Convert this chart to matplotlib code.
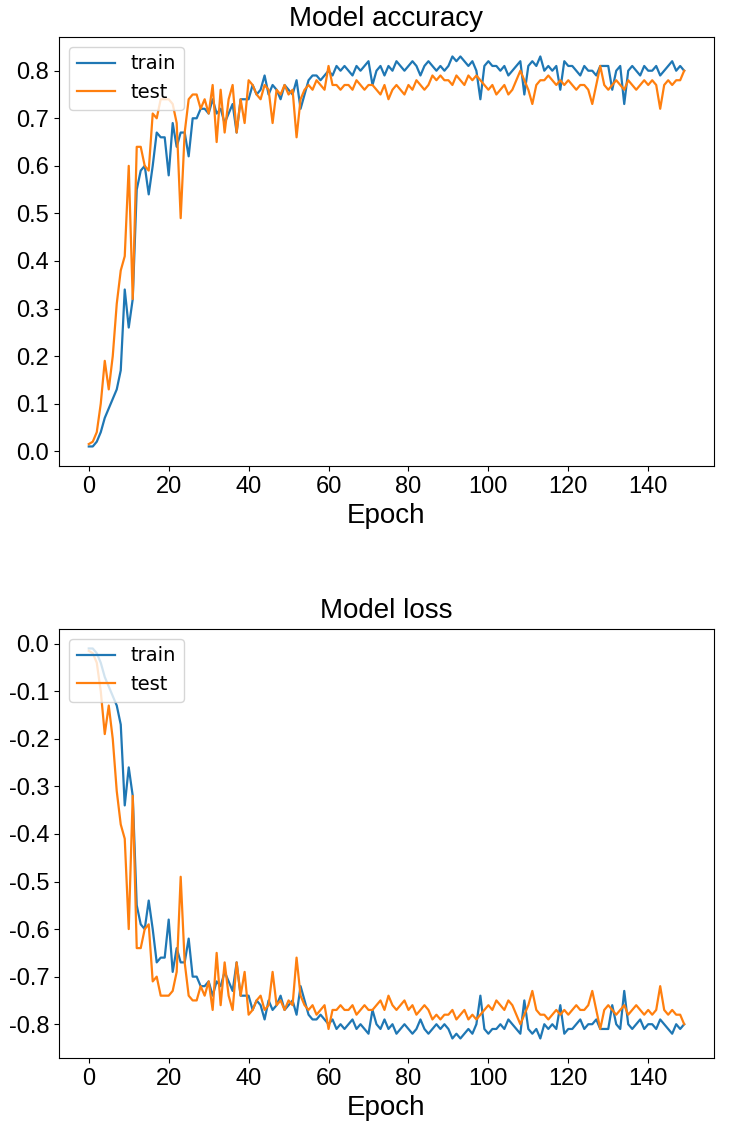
import numpy as np
import matplotlib
matplotlib.use('Agg')
import matplotlib.pyplot as plt

plt.rcParams['font.family'] = ['Liberation Sans', 'DejaVu Sans']
plt.rcParams['axes.unicode_minus'] = False

# accuracy per epoch
acc_train = [0.01, 0.01, 0.02, 0.04, 0.07, 0.09, 0.11, 0.13, 0.17, 0.34,
             0.26, 0.32, 0.55, 0.59, 0.60, 0.54, 0.60, 0.67, 0.66, 0.66,
             0.58, 0.69, 0.64, 0.67, 0.67, 0.62, 0.70, 0.70, 0.72, 0.72,
             0.71, 0.74, 0.71, 0.72, 0.69, 0.71, 0.73, 0.67, 0.74, 0.74,
             0.74, 0.77, 0.75, 0.76, 0.79, 0.75, 0.77, 0.76, 0.74, 0.77,
             0.76, 0.75, 0.78, 0.72, 0.75, 0.78, 0.79, 0.79, 0.78, 0.79,
             0.80, 0.79, 0.81, 0.80, 0.81, 0.80, 0.79, 0.81, 0.80, 0.81,
             0.82, 0.77, 0.80, 0.81, 0.79, 0.81, 0.80, 0.82, 0.81, 0.80,
             0.81, 0.82, 0.81, 0.79, 0.81, 0.82, 0.81, 0.80, 0.81, 0.80,
             0.81, 0.83, 0.82, 0.83, 0.82, 0.81, 0.82, 0.80, 0.74, 0.81,
             0.82, 0.81, 0.81, 0.80, 0.81, 0.79, 0.80, 0.81, 0.82, 0.75,
             0.81, 0.82, 0.81, 0.83, 0.80, 0.81, 0.80, 0.81, 0.76, 0.82,
             0.81, 0.81, 0.80, 0.79, 0.81, 0.80, 0.80, 0.79, 0.81, 0.81,
             0.81, 0.76, 0.80, 0.81, 0.73, 0.80, 0.81, 0.80, 0.79, 0.81,
             0.80, 0.80, 0.81, 0.79, 0.80, 0.81, 0.82, 0.80, 0.81, 0.80]
acc_test = [0.015, 0.02, 0.04, 0.10, 0.19, 0.13, 0.20, 0.31, 0.38, 0.41,
            0.60, 0.32, 0.64, 0.64, 0.60, 0.59, 0.71, 0.70, 0.74, 0.74,
            0.74, 0.73, 0.69, 0.49, 0.67, 0.74, 0.75, 0.75, 0.72, 0.74,
            0.71, 0.77, 0.65, 0.76, 0.67, 0.74, 0.77, 0.67, 0.74, 0.69,
            0.78, 0.77, 0.75, 0.74, 0.77, 0.76, 0.69, 0.76, 0.75, 0.77,
            0.75, 0.76, 0.66, 0.74, 0.76, 0.77, 0.76, 0.78, 0.77, 0.76,
            0.81, 0.77, 0.77, 0.76, 0.77, 0.77, 0.76, 0.78, 0.77, 0.76,
            0.77, 0.77, 0.76, 0.75, 0.77, 0.74, 0.76, 0.77, 0.76, 0.75,
            0.77, 0.76, 0.78, 0.77, 0.76, 0.77, 0.79, 0.78, 0.79, 0.78,
            0.78, 0.77, 0.79, 0.78, 0.77, 0.79, 0.78, 0.79, 0.78, 0.77,
            0.76, 0.77, 0.75, 0.76, 0.77, 0.75, 0.76, 0.78, 0.80, 0.78,
            0.76, 0.73, 0.77, 0.78, 0.78, 0.79, 0.78, 0.77, 0.78, 0.77,
            0.78, 0.77, 0.76, 0.77, 0.77, 0.76, 0.73, 0.77, 0.81, 0.77,
            0.76, 0.77, 0.78, 0.77, 0.76, 0.78, 0.77, 0.76, 0.77, 0.78,
            0.77, 0.78, 0.77, 0.72, 0.77, 0.78, 0.77, 0.78, 0.78, 0.80]

# loss per epoch (the lower panel)
loss_train = [-0.01, -0.01, -0.02, -0.04, -0.07, -0.09, -0.11, -0.13, -0.17, -0.34,
              -0.26, -0.32, -0.55, -0.59, -0.60, -0.54, -0.60, -0.67, -0.66, -0.66,
              -0.58, -0.69, -0.64, -0.67, -0.67, -0.62, -0.70, -0.70, -0.72, -0.72,
              -0.71, -0.74, -0.71, -0.72, -0.69, -0.71, -0.73, -0.67, -0.74, -0.74,
              -0.74, -0.77, -0.75, -0.76, -0.79, -0.75, -0.77, -0.76, -0.74, -0.77,
              -0.76, -0.75, -0.78, -0.72, -0.75, -0.78, -0.79, -0.79, -0.78, -0.79,
              -0.80, -0.79, -0.81, -0.80, -0.81, -0.80, -0.79, -0.81, -0.80, -0.81,
              -0.82, -0.77, -0.80, -0.81, -0.79, -0.81, -0.80, -0.82, -0.81, -0.80,
              -0.81, -0.82, -0.81, -0.79, -0.81, -0.82, -0.81, -0.80, -0.81, -0.80,
              -0.81, -0.83, -0.82, -0.83, -0.82, -0.81, -0.82, -0.80, -0.74, -0.81,
              -0.82, -0.81, -0.81, -0.80, -0.81, -0.79, -0.80, -0.81, -0.82, -0.75,
              -0.81, -0.82, -0.81, -0.83, -0.80, -0.81, -0.80, -0.81, -0.76, -0.82,
              -0.81, -0.81, -0.80, -0.79, -0.81, -0.80, -0.80, -0.79, -0.81, -0.81,
              -0.81, -0.76, -0.80, -0.81, -0.73, -0.80, -0.81, -0.80, -0.79, -0.81,
              -0.80, -0.80, -0.81, -0.79, -0.80, -0.81, -0.82, -0.80, -0.81, -0.80]
loss_test = [-0.015, -0.02, -0.04, -0.10, -0.19, -0.13, -0.20, -0.31, -0.38, -0.41,
             -0.60, -0.32, -0.64, -0.64, -0.60, -0.59, -0.71, -0.70, -0.74, -0.74,
             -0.74, -0.73, -0.69, -0.49, -0.67, -0.74, -0.75, -0.75, -0.72, -0.74,
             -0.71, -0.77, -0.65, -0.76, -0.67, -0.74, -0.77, -0.67, -0.74, -0.69,
             -0.78, -0.77, -0.75, -0.74, -0.77, -0.76, -0.69, -0.76, -0.75, -0.77,
             -0.75, -0.76, -0.66, -0.74, -0.76, -0.77, -0.76, -0.78, -0.77, -0.76,
             -0.81, -0.77, -0.77, -0.76, -0.77, -0.77, -0.76, -0.78, -0.77, -0.76,
             -0.77, -0.77, -0.76, -0.75, -0.77, -0.74, -0.76, -0.77, -0.76, -0.75,
             -0.77, -0.76, -0.78, -0.77, -0.76, -0.77, -0.79, -0.78, -0.79, -0.78,
             -0.78, -0.77, -0.79, -0.78, -0.77, -0.79, -0.78, -0.79, -0.78, -0.77,
             -0.76, -0.77, -0.75, -0.76, -0.77, -0.75, -0.76, -0.78, -0.80, -0.78,
             -0.76, -0.73, -0.77, -0.78, -0.78, -0.79, -0.78, -0.77, -0.78, -0.77,
             -0.78, -0.77, -0.76, -0.77, -0.77, -0.76, -0.73, -0.77, -0.81, -0.77,
             -0.76, -0.77, -0.78, -0.77, -0.76, -0.78, -0.77, -0.76, -0.77, -0.78,
             -0.77, -0.78, -0.77, -0.72, -0.77, -0.78, -0.77, -0.78, -0.78, -0.80]

epochs = np.arange(len(acc_train))

fig, (ax1, ax2) = plt.subplots(2, 1, figsize=(7.33, 11.37), dpi=100)
fig.subplots_adjust(left=0.0805, right=0.974, top=0.9675, bottom=0.0695, hspace=0.38)

for ax, tr, te, title in [(ax1, acc_train, acc_test, 'Model accuracy'),
                          (ax2, loss_train, loss_test, 'Model loss')]:
    ax.plot(epochs, tr, color='tab:blue', lw=1.6, label='train')
    ax.plot(epochs, te, color='tab:orange', lw=1.6, label='test')
    ax.set_title(title, fontsize=20, pad=8)
    ax.set_xlabel('Epoch', fontsize=20)
    ax.tick_params(labelsize=17)
    ax.set_xticks(np.arange(0, 141, 20))
    ax.legend(loc='upper left', prop={'family': 'DejaVu Sans', 'size': 14})

ax1.set_yticks(np.arange(0, 0.81, 0.1))
ax2.set_yticks(np.arange(-0.8, 0.01, 0.1))

plt.savefig('out.png')
